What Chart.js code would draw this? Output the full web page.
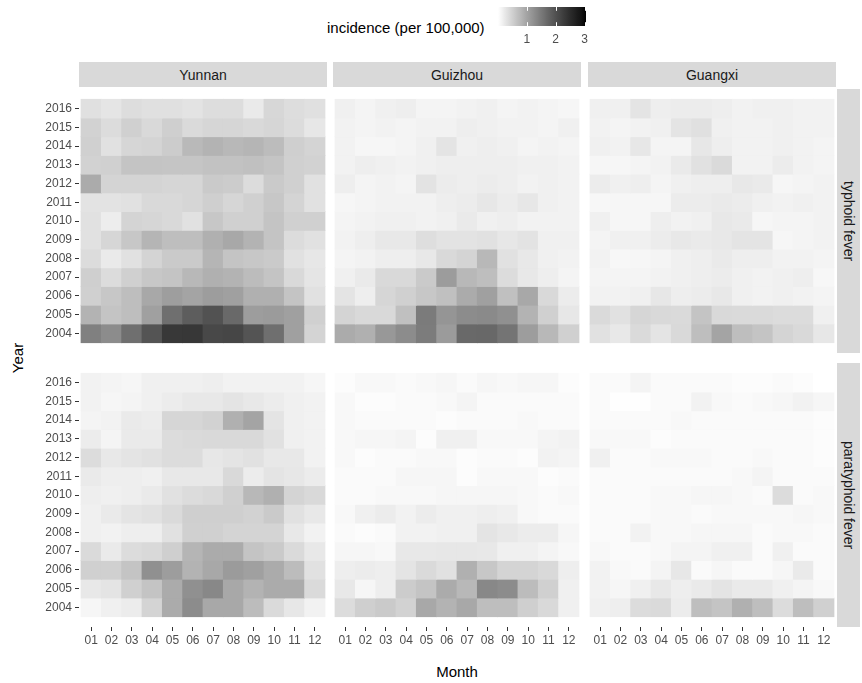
<!DOCTYPE html>
<html>
<head>
<meta charset="utf-8">
<script src="https://cdn.jsdelivr.net/npm/chart.js@4.4.0/dist/chart.umd.min.js"></script>
<style>
  body { margin: 0; background: #fff; width: 862px; height: 683px; position: relative; overflow: hidden;
         font-family: 'Liberation Sans', Arial, sans-serif; }
  .box { position: absolute; }
  .strip { position: absolute; background: #d9d9d9; color: #1a1a1a; font-size: 14px;
           display: flex; align-items: center; justify-content: center; }
  .vstrip { writing-mode: vertical-rl; }
  .label { position: absolute; color: #000; font-size: 15px; white-space: nowrap; }
</style>
</head>
<body>
<div class="label" id="legendTitle" style="left:327px; top:19px; line-height:18px;">incidence (per 100,000)</div>
<div class="label" style="left:0; top:349px; width:36px; text-align:center; line-height:18px; transform:rotate(-90deg);">Year</div>
<div class="label" style="left:407px; top:663px; width:100px; text-align:center; line-height:18px; font-family:'Liberation Sans Narrow','Liberation Sans',sans-serif;">Month</div>

<script>
// ---- data -------------------------------------------------------------
const years = [2016, 2015, 2014, 2013, 2012, 2011, 2010, 2009, 2008, 2007, 2006, 2005, 2004];
const months = [1, 2, 3, 4, 5, 6, 7, 8, 9, 10, 11, 12];
const monthLabels = ['01', '02', '03', '04', '05', '06', '07', '08', '09', '10', '11', '12'];
const regions = ['Yunnan', 'Guizhou', 'Guangxi'];
const diseases = ['typhoid fever', 'paratyphoid fever'];
const legendTicks = [1, 2, 3];
const VMAX = 3.05;

// rows follow the years array (2016 first), columns follow months
const yunnanTyphoid = [
  [0.33, 0.28, 0.36, 0.33, 0.33, 0.30, 0.36, 0.36, 0.22, 0.43, 0.36, 0.33],
  [0.48, 0.37, 0.50, 0.41, 0.51, 0.39, 0.44, 0.44, 0.41, 0.44, 0.37, 0.25],
  [0.50, 0.32, 0.44, 0.46, 0.55, 0.76, 0.82, 0.77, 0.80, 0.73, 0.51, 0.46],
  [0.48, 0.50, 0.64, 0.64, 0.62, 0.62, 0.66, 0.66, 0.68, 0.64, 0.50, 0.48],
  [0.92, 0.46, 0.46, 0.46, 0.44, 0.44, 0.57, 0.55, 0.37, 0.57, 0.50, 0.32],
  [0.30, 0.30, 0.32, 0.41, 0.41, 0.44, 0.52, 0.44, 0.50, 0.60, 0.46, 0.32],
  [0.32, 0.19, 0.46, 0.44, 0.41, 0.32, 0.60, 0.50, 0.50, 0.64, 0.50, 0.50],
  [0.32, 0.44, 0.60, 0.80, 0.70, 0.70, 0.86, 0.95, 0.82, 0.64, 0.37, 0.32],
  [0.37, 0.22, 0.32, 0.46, 0.57, 0.57, 0.80, 0.64, 0.60, 0.57, 0.32, 0.26],
  [0.52, 0.37, 0.50, 0.60, 0.64, 0.77, 0.86, 0.82, 0.73, 0.64, 0.41, 0.28],
  [0.50, 0.60, 0.70, 0.95, 1.06, 0.99, 1.08, 1.04, 0.86, 0.86, 0.64, 0.32],
  [0.82, 0.64, 0.70, 1.04, 1.62, 1.85, 1.98, 1.69, 1.08, 1.10, 1.04, 0.50],
  [1.41, 1.27, 1.62, 1.96, 2.33, 2.35, 2.12, 2.15, 1.96, 1.62, 1.04, 0.46]
];
const guizhouTyphoid = [
  [0.16, 0.12, 0.16, 0.18, 0.12, 0.12, 0.14, 0.16, 0.12, 0.14, 0.12, 0.10],
  [0.14, 0.12, 0.14, 0.12, 0.14, 0.14, 0.18, 0.16, 0.14, 0.14, 0.12, 0.16],
  [0.14, 0.10, 0.10, 0.12, 0.16, 0.29, 0.16, 0.18, 0.16, 0.12, 0.14, 0.12],
  [0.14, 0.18, 0.16, 0.14, 0.16, 0.18, 0.18, 0.18, 0.18, 0.16, 0.16, 0.14],
  [0.18, 0.12, 0.14, 0.12, 0.30, 0.20, 0.18, 0.20, 0.18, 0.14, 0.16, 0.14],
  [0.10, 0.12, 0.14, 0.14, 0.14, 0.18, 0.20, 0.26, 0.20, 0.26, 0.16, 0.14],
  [0.12, 0.14, 0.16, 0.16, 0.14, 0.16, 0.22, 0.16, 0.18, 0.14, 0.14, 0.14],
  [0.14, 0.18, 0.24, 0.24, 0.35, 0.30, 0.30, 0.32, 0.26, 0.30, 0.16, 0.16],
  [0.12, 0.14, 0.18, 0.18, 0.24, 0.41, 0.46, 0.77, 0.32, 0.24, 0.16, 0.14],
  [0.16, 0.22, 0.41, 0.41, 0.57, 1.09, 0.77, 0.70, 0.37, 0.24, 0.18, 0.12],
  [0.29, 0.18, 0.44, 0.50, 0.60, 0.68, 0.91, 1.04, 0.68, 0.95, 0.41, 0.20],
  [0.46, 0.41, 0.41, 0.68, 1.48, 1.17, 1.27, 1.30, 1.23, 0.82, 0.50, 0.26],
  [0.91, 0.86, 1.13, 1.27, 1.46, 1.10, 1.69, 1.71, 1.56, 1.08, 0.77, 0.50]
];
const guangxiTyphoid = [
  [0.16, 0.16, 0.29, 0.18, 0.20, 0.20, 0.18, 0.14, 0.16, 0.16, 0.14, 0.14],
  [0.14, 0.12, 0.14, 0.16, 0.29, 0.33, 0.16, 0.14, 0.14, 0.16, 0.14, 0.14],
  [0.16, 0.14, 0.26, 0.12, 0.12, 0.26, 0.18, 0.14, 0.14, 0.16, 0.14, 0.12],
  [0.10, 0.10, 0.12, 0.14, 0.22, 0.32, 0.39, 0.14, 0.14, 0.20, 0.14, 0.12],
  [0.20, 0.16, 0.18, 0.12, 0.16, 0.18, 0.18, 0.24, 0.22, 0.10, 0.12, 0.14],
  [0.08, 0.10, 0.10, 0.10, 0.20, 0.20, 0.22, 0.20, 0.16, 0.14, 0.16, 0.14],
  [0.16, 0.10, 0.10, 0.18, 0.14, 0.16, 0.24, 0.22, 0.10, 0.12, 0.12, 0.14],
  [0.12, 0.16, 0.16, 0.20, 0.24, 0.22, 0.24, 0.29, 0.29, 0.10, 0.12, 0.14],
  [0.14, 0.08, 0.10, 0.12, 0.16, 0.18, 0.22, 0.18, 0.18, 0.14, 0.14, 0.12],
  [0.12, 0.12, 0.12, 0.14, 0.16, 0.18, 0.20, 0.16, 0.14, 0.16, 0.18, 0.08],
  [0.14, 0.14, 0.16, 0.26, 0.18, 0.20, 0.24, 0.16, 0.14, 0.16, 0.14, 0.12],
  [0.39, 0.32, 0.44, 0.41, 0.39, 0.64, 0.41, 0.39, 0.39, 0.37, 0.37, 0.16],
  [0.32, 0.24, 0.39, 0.29, 0.41, 0.70, 0.99, 0.70, 0.64, 0.46, 0.41, 0.26]
];
const yunnanParatyphoid = [
  [0.14, 0.12, 0.10, 0.16, 0.16, 0.16, 0.18, 0.14, 0.14, 0.14, 0.14, 0.10],
  [0.14, 0.10, 0.12, 0.16, 0.20, 0.24, 0.24, 0.29, 0.24, 0.20, 0.16, 0.14],
  [0.12, 0.14, 0.22, 0.20, 0.44, 0.44, 0.48, 0.86, 0.99, 0.29, 0.16, 0.14],
  [0.20, 0.12, 0.22, 0.22, 0.37, 0.39, 0.41, 0.41, 0.41, 0.32, 0.16, 0.14],
  [0.37, 0.24, 0.29, 0.32, 0.37, 0.37, 0.26, 0.29, 0.32, 0.24, 0.24, 0.14],
  [0.22, 0.18, 0.18, 0.16, 0.24, 0.24, 0.24, 0.41, 0.20, 0.29, 0.26, 0.20],
  [0.18, 0.16, 0.18, 0.22, 0.32, 0.37, 0.41, 0.50, 0.77, 0.86, 0.46, 0.41],
  [0.16, 0.22, 0.29, 0.32, 0.39, 0.52, 0.52, 0.52, 0.48, 0.57, 0.32, 0.24],
  [0.16, 0.14, 0.18, 0.18, 0.32, 0.50, 0.50, 0.46, 0.46, 0.46, 0.24, 0.14],
  [0.39, 0.22, 0.37, 0.41, 0.52, 0.80, 0.91, 0.91, 0.64, 0.57, 0.39, 0.24],
  [0.50, 0.50, 0.64, 1.23, 1.08, 0.82, 0.95, 1.10, 1.04, 0.91, 0.73, 0.32],
  [0.24, 0.29, 0.50, 0.64, 0.91, 1.23, 1.32, 0.95, 0.82, 0.91, 0.91, 0.39],
  [0.10, 0.16, 0.20, 0.46, 0.91, 1.27, 0.95, 0.95, 0.73, 0.39, 0.26, 0.14]
];
const guizhouParatyphoid = [
  [0.03, 0.07, 0.07, 0.05, 0.07, 0.10, 0.05, 0.10, 0.07, 0.10, 0.10, 0.03],
  [0.07, 0.03, 0.03, 0.05, 0.05, 0.07, 0.12, 0.05, 0.05, 0.05, 0.05, 0.05],
  [0.07, 0.05, 0.05, 0.05, 0.05, 0.03, 0.05, 0.05, 0.05, 0.07, 0.05, 0.05],
  [0.07, 0.10, 0.10, 0.12, 0.03, 0.16, 0.16, 0.07, 0.07, 0.07, 0.12, 0.14],
  [0.07, 0.03, 0.05, 0.05, 0.07, 0.07, 0.03, 0.05, 0.05, 0.03, 0.14, 0.12],
  [0.05, 0.05, 0.05, 0.10, 0.10, 0.10, 0.03, 0.07, 0.07, 0.07, 0.03, 0.05],
  [0.05, 0.05, 0.07, 0.07, 0.07, 0.10, 0.10, 0.10, 0.10, 0.07, 0.05, 0.07],
  [0.07, 0.16, 0.20, 0.14, 0.20, 0.16, 0.16, 0.18, 0.16, 0.07, 0.05, 0.05],
  [0.05, 0.03, 0.05, 0.14, 0.14, 0.16, 0.16, 0.29, 0.24, 0.20, 0.20, 0.10],
  [0.10, 0.10, 0.07, 0.24, 0.24, 0.26, 0.26, 0.24, 0.16, 0.16, 0.12, 0.07],
  [0.18, 0.20, 0.18, 0.29, 0.39, 0.32, 0.86, 0.60, 0.46, 0.46, 0.41, 0.18],
  [0.24, 0.10, 0.18, 0.55, 0.64, 0.91, 0.77, 1.32, 1.27, 0.73, 0.50, 0.16],
  [0.37, 0.52, 0.57, 0.48, 0.95, 0.82, 0.95, 0.70, 0.70, 0.52, 0.41, 0.16]
];
const guangxiParatyphoid = [
  [0.05, 0.05, 0.12, 0.05, 0.05, 0.05, 0.05, 0.03, 0.03, 0.05, 0.03, 0.00],
  [0.05, 0.01, 0.01, 0.05, 0.05, 0.14, 0.07, 0.05, 0.07, 0.10, 0.14, 0.10],
  [0.05, 0.05, 0.05, 0.05, 0.07, 0.05, 0.05, 0.05, 0.05, 0.05, 0.05, 0.03],
  [0.07, 0.07, 0.07, 0.03, 0.05, 0.05, 0.05, 0.05, 0.05, 0.05, 0.05, 0.03],
  [0.16, 0.05, 0.05, 0.07, 0.07, 0.07, 0.05, 0.05, 0.07, 0.05, 0.05, 0.03],
  [0.05, 0.05, 0.05, 0.05, 0.05, 0.05, 0.05, 0.07, 0.12, 0.05, 0.05, 0.05],
  [0.05, 0.05, 0.05, 0.07, 0.07, 0.10, 0.10, 0.07, 0.05, 0.37, 0.05, 0.07],
  [0.05, 0.05, 0.05, 0.07, 0.07, 0.05, 0.07, 0.07, 0.07, 0.07, 0.10, 0.07],
  [0.05, 0.05, 0.14, 0.07, 0.07, 0.10, 0.10, 0.10, 0.05, 0.07, 0.07, 0.05],
  [0.07, 0.05, 0.05, 0.07, 0.12, 0.12, 0.16, 0.16, 0.05, 0.16, 0.05, 0.05],
  [0.14, 0.07, 0.05, 0.12, 0.26, 0.05, 0.10, 0.05, 0.05, 0.10, 0.22, 0.05],
  [0.14, 0.10, 0.16, 0.24, 0.18, 0.22, 0.29, 0.22, 0.22, 0.16, 0.12, 0.07],
  [0.16, 0.18, 0.37, 0.39, 0.20, 0.70, 0.64, 0.86, 0.70, 0.37, 0.70, 0.50]
];

const panelValues = [
  [yunnanTyphoid, guizhouTyphoid, guangxiTyphoid],
  [yunnanParatyphoid, guizhouParatyphoid, guangxiParatyphoid]
];

// ---- layout -----------------------------------------------------------
const PANEL_X = [79, 333, 588];
const PANEL_Y = [89, 363];
const PANEL_W = 248;
const PANEL_H = 264;
const AXIS_W = 79;
const AXIS_H = 26;
const NARROW = "'Liberation Sans Narrow', 'Liberation Sans', sans-serif";

Chart.defaults.font.family = "'Liberation Sans', Arial, sans-serif";

// white -> black, interpolated on lightness like ggplot's gradient
function greyFor(v) {
  const t = Math.min(Math.max(v / VMAX, 0), 1);
  const L = 100 * (1 - t);
  const f = (L + 16) / 116;
  const Y = L > 8 ? f * f * f : L / 903.3;
  const s = Y <= 0.0031308 ? 12.92 * Y : 1.055 * Math.pow(Y, 1 / 2.4) - 0.055;
  const g = Math.round(255 * s);
  return 'rgb(' + g + ',' + g + ',' + g + ')';
}

// fixed axis size, and no extra padding so every panel lines up
function fixAxis(size) {
  return s => {
    if (s.options.display) {
      if (s.isHorizontal()) s.height = size; else s.width = size;
    }
    s.paddingLeft = s.paddingRight = s.paddingTop = s.paddingBottom = 0;
  };
}

function addBox(left, top, width, height) {
  const div = document.createElement('div');
  div.className = 'box';
  div.style.cssText = 'left:' + left + 'px;top:' + top + 'px;width:' + width + 'px;height:' + height + 'px;';
  const canvas = document.createElement('canvas');
  div.appendChild(canvas);
  document.body.appendChild(div);
  return canvas;
}

function makePanel(row, col) {
  const values = panelValues[row][col];
  const showY = col === 0;
  const showX = row === 1;
  const left = showY ? PANEL_X[col] - AXIS_W : PANEL_X[col];
  const canvas = addBox(left, PANEL_Y[row], PANEL_W + (showY ? AXIS_W : 0), PANEL_H + (showX ? AXIS_H : 0));

  new Chart(canvas, {
    type: 'bar',
    data: {
      datasets: years.map((yr, r) => ({
        label: String(yr),
        data: months.map(m => ({ x: m, y: [yr - 0.5, yr + 0.5] })),
        backgroundColor: values[r].map(greyFor),
        grouped: false,
        barPercentage: 1,
        categoryPercentage: 1,
        borderWidth: 0,
        inflateAmount: 0.4
      }))
    },
    options: {
      responsive: true,
      maintainAspectRatio: false,
      animation: false,
      layout: { padding: 0 },
      plugins: { legend: { display: false }, tooltip: { enabled: false } },
      scales: {
        x: {
          type: 'linear', min: 0.4, max: 12.6, offset: false, display: showX,
          afterBuildTicks: s => { s.ticks = months.map(v => ({ value: v })); },
          afterFit: fixAxis(AXIS_H),
          grid: { offset: false, drawOnChartArea: false, tickLength: 4, color: '#333' },
          border: { display: false },
          ticks: {
            padding: 2, color: '#4d4d4d', autoSkip: false, maxRotation: 0,
            font: { size: 12, family: NARROW },
            callback: v => monthLabels[v - 1]
          }
        },
        y: {
          type: 'linear', min: 2002.95, max: 2017.05, display: showY,
          afterBuildTicks: s => { s.ticks = years.map(v => ({ value: v })); },
          afterFit: fixAxis(AXIS_W),
          grid: { drawOnChartArea: false, tickLength: 4, color: '#333' },
          border: { display: false },
          ticks: { padding: 3, color: '#4d4d4d', autoSkip: false, font: { size: 12 }, callback: v => String(v) }
        }
      }
    }
  });
}

// strips
regions.forEach((name, col) => {
  const s = document.createElement('div');
  s.className = 'strip';
  s.style.cssText = 'left:' + PANEL_X[col] + 'px;top:62px;width:' + PANEL_W + 'px;height:25px;';
  s.textContent = name;
  document.body.appendChild(s);
});
diseases.forEach((name, row) => {
  const s = document.createElement('div');
  s.className = 'strip vstrip';
  s.style.cssText = 'left:837px;top:' + PANEL_Y[row] + 'px;width:23px;height:' + PANEL_H + 'px;';
  s.textContent = name;
  document.body.appendChild(s);
});

for (let r = 0; r < 2; r++) {
  for (let c = 0; c < 3; c++) makePanel(r, c);
}

// ---- colourbar legend ---------------------------------------------------
const colourbar = {
  id: 'colourbar',
  beforeDraw(chart) {
    const { ctx, chartArea: a, scales } = chart;
    const x = scales.x;
    const grad = ctx.createLinearGradient(a.left, 0, a.right, 0);
    for (let i = 0; i <= 40; i++) {
      const v = x.min + (x.max - x.min) * i / 40;
      grad.addColorStop(i / 40, greyFor(v));
    }
    ctx.save();
    ctx.fillStyle = grad;
    ctx.fillRect(a.left, a.top, a.right - a.left, a.bottom - a.top);
    ctx.restore();
  },
  afterDraw(chart) {
    const { ctx, chartArea: a, scales } = chart;
    const tick = (a.bottom - a.top) / 5;
    ctx.save();
    ctx.strokeStyle = '#ffffff';
    ctx.lineWidth = 1;
    legendTicks.forEach(v => {
      const px = Math.round(scales.x.getPixelForValue(v)) + 0.5;
      ctx.beginPath();
      ctx.moveTo(px, a.top); ctx.lineTo(px, a.top + tick);
      ctx.moveTo(px, a.bottom - tick); ctx.lineTo(px, a.bottom);
      ctx.stroke();
    });
    ctx.restore();
  }
};

new Chart(addBox(490, 0, 110, 50), {
  type: 'bar',
  data: { datasets: [] },
  options: {
    responsive: true,
    maintainAspectRatio: false,
    animation: false,
    layout: { padding: { left: 8, right: 14, top: 7, bottom: 0 } },
    plugins: { legend: { display: false }, tooltip: { enabled: false } },
    scales: {
      x: {
        type: 'linear', min: 0, max: VMAX, offset: false,
        afterBuildTicks: s => { s.ticks = legendTicks.map(v => ({ value: v })); },
        afterFit: fixAxis(24),
        grid: { display: false, drawTicks: false, offset: false },
        border: { display: false },
        ticks: { padding: 6, color: '#4d4d4d', font: { size: 12 }, callback: v => String(v) }
      },
      y: { display: false, min: 0, max: 1 }
    }
  },
  plugins: [colourbar]
});
</script>
</body>
</html>
